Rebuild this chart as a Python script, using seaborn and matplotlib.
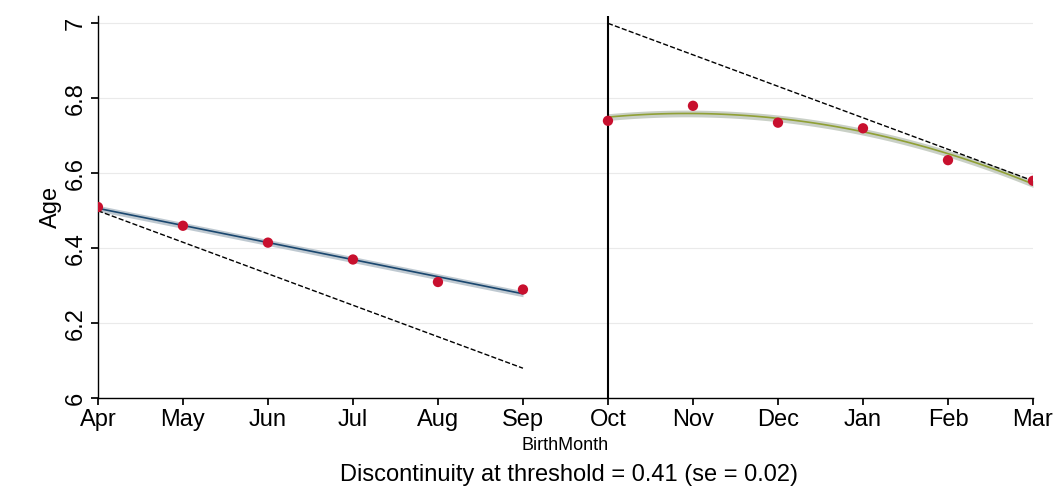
import numpy as np
import pandas as pd
import matplotlib
matplotlib.use('Agg')
import matplotlib.pyplot as plt
import seaborn as sns

months = ['Apr', 'May', 'Jun', 'Jul', 'Aug', 'Sep', 'Oct', 'Nov', 'Dec', 'Jan', 'Feb', 'Mar']
age = [6.51, 6.46, 6.415, 6.37, 6.31, 6.29, 6.74, 6.78, 6.735, 6.72, 6.635, 6.58]
dash_left = [6.50, 6.08]
dash_right = [7.00, 6.58]

sns.set_theme(style='white')
plt.rcParams['font.family'] = ['Arial', 'Liberation Sans', 'DejaVu Sans']
plt.rcParams['text.color'] = 'black'
plt.rcParams['axes.labelcolor'] = 'black'
plt.rcParams['xtick.color'] = 'black'
plt.rcParams['ytick.color'] = 'black'

df = pd.DataFrame({'x': np.arange(12), 'Age': age})
fig = plt.figure(figsize=(10.53, 4.91), dpi=100)
ax = fig.add_axes([0.093, 0.189, 0.888, 0.778])

ax.set_yticks([6, 6.2, 6.4, 6.6, 6.8, 7])
ax.grid(axis='y', color='#eaeaea', linewidth=0.8)

left = df[df.x < 6]
right = df[df.x >= 6]
# left: linear fit with band
xl = np.linspace(0, 5, 100)
pl = np.polyfit(left.x, left.Age, 1)
yl = np.polyval(pl, xl)
ax.fill_between(xl, yl - 0.008, yl + 0.008, color='#b8c4cc', alpha=0.9, lw=0)
ax.plot(xl, yl, color='#1a476f', lw=1.2)
# right: quadratic fit with band
xr = np.linspace(6, 11, 100)
pr = np.polyfit(right.x, right.Age, 2)
yr = np.polyval(pr, xr)
ax.fill_between(xr, yr - 0.009, yr + 0.009, color='#c4cbc0', alpha=0.9, lw=0)
ax.plot(xr, yr, color='#90a035', lw=1.2)

ax.plot([0, 5], dash_left, color='black', ls='--', lw=1)
ax.plot([6, 11], dash_right, color='black', ls='--', lw=1)
ax.axvline(6, color='black', lw=1.5)

sns.scatterplot(data=df, x='x', y='Age', color='#c8102e', s=55, edgecolor='none', ax=ax, zorder=5)

ax.set_xlim(0, 11)
ax.set_ylim(6, 7.019)
ax.set_xticks(range(12))
ax.set_xticklabels(months, fontsize=17)
ax.set_yticklabels(['6', '6.2', '6.4', '6.6', '6.8', '7'], fontsize=17, rotation=90, va='center')
ax.set_xlabel('BirthMonth', fontsize=13)
ax.set_ylabel('Age', fontsize=17, labelpad=2)
ax.tick_params(axis='both', length=5, color='black', bottom=True, left=True, pad=3)
for s in ['top', 'right']:
    ax.spines[s].set_visible(False)
for s in ['left', 'bottom']:
    ax.spines[s].set_color('black')
    ax.spines[s].set_linewidth(1)
fig.text(0.54, 0.02, 'Discontinuity at threshold = 0.41 (se = 0.02)', ha='center', fontsize=17)

fig.savefig('out.png', dpi=100)
